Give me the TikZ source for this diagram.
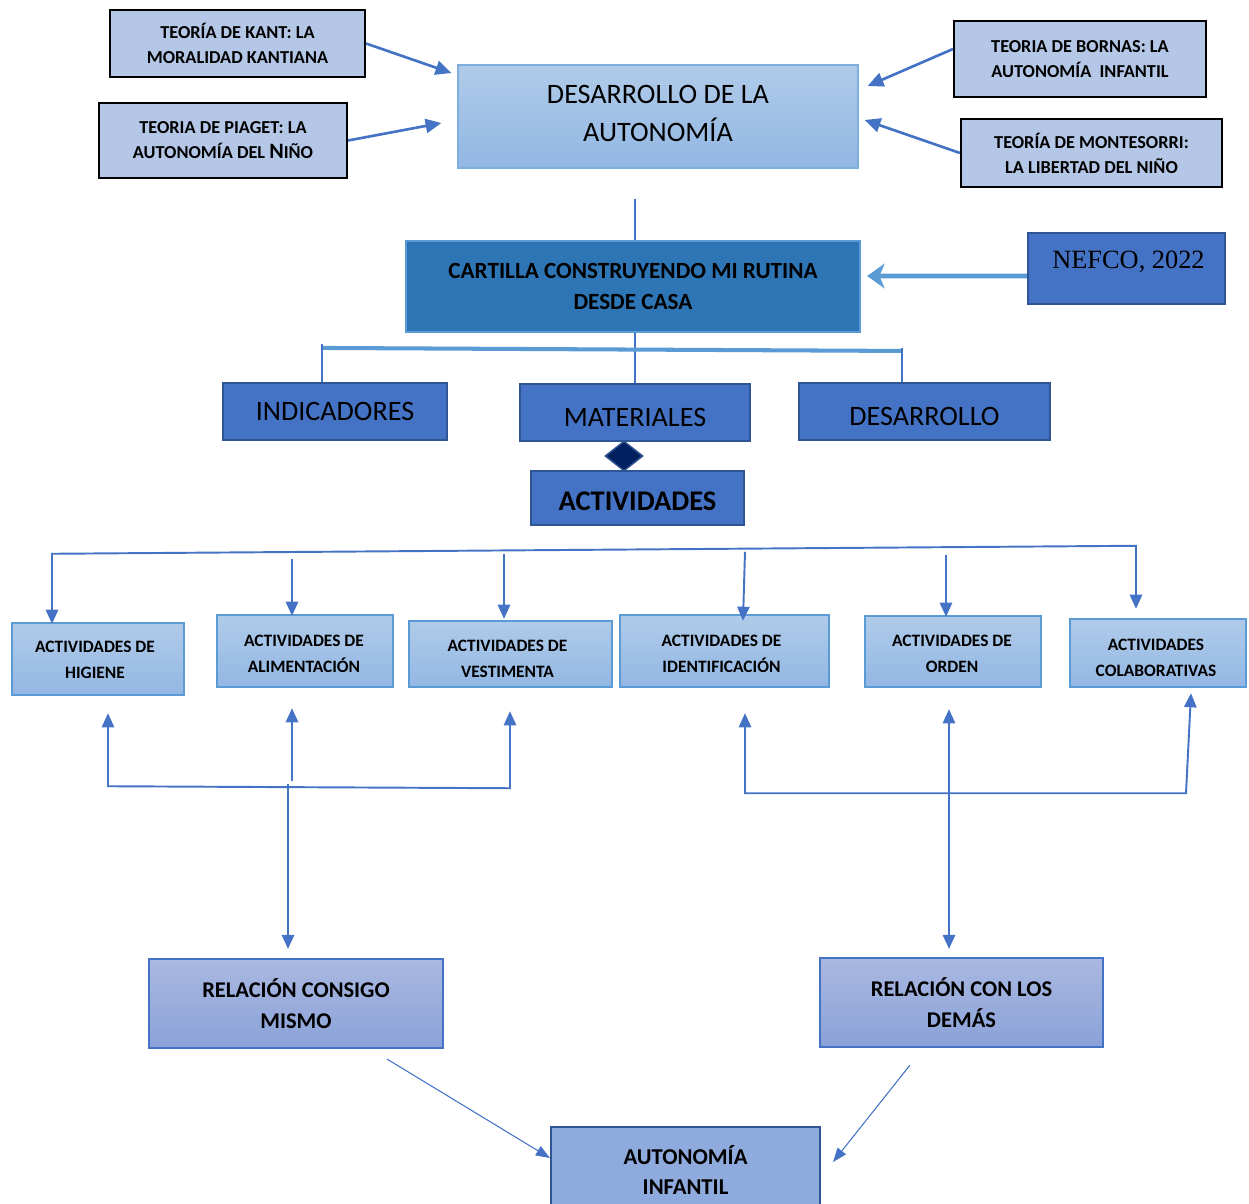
\documentclass[tikz,border=0pt]{standalone}
\usepackage{fontspec}
\setmainfont{Carlito}
\newfontfamily\tnr{Liberation Serif}
\usetikzlibrary{arrows.meta,calc,shapes.geometric}
\definecolor{theo}{HTML}{B4C7E7}
\definecolor{cblue}{HTML}{4472C4}
\definecolor{cdark}{HTML}{2F5597}
\definecolor{clight}{HTML}{5B9BD5}
\definecolor{cmid}{HTML}{2E75B6}
\definecolor{gtop}{HTML}{B0CBE9}
\definecolor{gbot}{HTML}{92B7E3}
\definecolor{rtop}{HTML}{AAB8E1}
\definecolor{rbot}{HTML}{8AA2D8}
\definecolor{aifill}{HTML}{8FAADC}
\definecolor{navy}{HTML}{002060}
\tikzset{
  sz/.style n args={2}{minimum width=#1*0.02cm, minimum height=#2*0.02cm, inner sep=0pt, align=center},
  tx/.style={inner sep=0pt, align=center},
  theory/.style={draw=black, line width=1.2pt, fill=theo, font=\bfseries\fontsize{10.4}{14.2}\selectfont},
  devbox/.style={draw=clight!80, line width=0.7pt, top color=gtop, bottom color=gbot},
  devfont/.style={font=\fontsize{16}{21.5}\selectfont},
  cartbox/.style={draw=clight, line width=1.2pt, fill=cmid, font=\bfseries\fontsize{13.2}{17.6}\selectfont},
  darkbox/.style={draw=cdark, line width=1.2pt, fill=cblue},
  secfont/.style={font=\fontsize{16}{19}\selectfont},
  actbox/.style={draw=clight, line width=1.4pt, top color=gtop, bottom color=gbot},
  actfont/.style={font=\bfseries\fontsize{9.9}{14.7}\selectfont},
  relbox/.style={draw=cblue, line width=1.2pt, top color=rtop, bottom color=rbot, font=\bfseries\fontsize{12.8}{17.6}\selectfont},
  aibox/.style={draw=cdark, line width=1.2pt, fill=aifill, font=\bfseries\fontsize{12.9}{17}\selectfont},
  toparr/.style={draw=cblue, line width=1.5pt, -{Triangle[length=9pt,width=8pt]}},
  arr/.style={draw=cblue, line width=1.1pt, -{Triangle[length=8pt,width=7pt]}},
  darr/.style={draw=cblue, line width=1.1pt, {Triangle[length=8pt,width=7pt]}-{Triangle[length=8pt,width=7pt]}},
  thinarr/.style={draw=cblue, line width=0.6pt, -{Triangle[length=8pt,width=6pt]}},
  vline/.style={draw=cblue, line width=1.7pt},
  hbar/.style={draw=clight, line width=2.3pt}
}
\begin{document}
\begin{tikzpicture}[x=0.02cm,y=-0.02cm]
\path[use as bounding box, fill=white] (0,0) rectangle (1249,1204);
\clip (0,0) rectangle (1249,1204);

% theory boxes
\node[theory, sz={255}{67}] (kant) at (237.5,43.5) {TEORÍA DE KANT: LA\\MORALIDAD KANTIANA};
\node[theory, sz={248}{75}] (piaget) at (223,140.5) {TEORIA DE PIAGET: LA\\AUTONOMÍA DEL {\fontsize{12.5}{14}\selectfont N}IÑO};
\node[theory, sz={252}{76}] (bornas) at (1080,59) {TEORIA DE BORNAS: LA\\AUTONOMÍA\ \ INFANTIL};
\node[theory, sz={261}{68}] (monte) at (1091.5,153) {TEORÍA DE MONTESORRI:\\LA LIBERTAD DEL NIÑO};

\node[devbox, sz={400}{103}] (dev) at (658,116.5) {};
\node[tx, devfont] (devt) at ($(dev.center)+(0,-3)$) {DESARROLLO DE LA\\AUTONOMÍA};

\draw[toparr] (kant.east) -- ($(dev.west)+(-6,-43.5)$);
\draw[toparr] (piaget.east) -- ($(dev.west)+(-16,6.5)$);
\draw[toparr] ($(bornas.west)+(0,-10)$) -- ($(dev.east)+(9,-30.5)$);
\draw[toparr] (monte.west) -- ($(dev.east)+(6,3.5)$);

% cartilla
\node[cartbox, sz={454}{91}] (cart) at (633,286.5) {CARTILLA CONSTRUYENDO MI RUTINA\\DESDE CASA};
\draw[vline] ($(dev.south)+(-23,30)$) -- ($(cart.north)+(2,0)$);

\node[darkbox, sz={197}{71}] (nefco) at (1126.5,268.5) {};
\node[tx, font=\tnr\fontsize{15}{18}\selectfont] (neft) at ($(nefco.center)+(2,-7)$) {NEFCO, 2022};
\draw[draw=clight, line width=2.8pt, -{Stealth[length=10pt,width=14pt,inset=3pt]}] ($(nefco.west)+(0,7.5)$) -- ($(cart.east)+(6,-10.5)$);

% sections
\node[darkbox, sz={224}{57}, secfont] (ind) at (335,411.5) {INDICADORES};
\node[darkbox, sz={230}{57}] (mat) at (635,412.5) {};
\node[tx, secfont] (matt) at ($(mat.center)+(0,4.5)$) {MATERIALES};
\node[darkbox, sz={251}{57}] (des) at (924.5,411.5) {};
\node[tx, secfont] (dest) at ($(des.center)+(0,4.5)$) {DESARROLLO};

\draw[vline] ($(cart.south)+(2,0)$) -- (mat.north);
\draw[hbar] ($(ind.north)+(-13,-34)$) -- ($(des.north)+(-22.5,-31)$);
\draw[vline] ($(ind.north)+(-13,-38)$) -- ($(ind.north)+(-13,0)$);
\draw[vline] ($(des.north)+(-22.5,-34)$) -- ($(des.north)+(-22.5,0)$);

\node[darkbox, sz={213}{54}] (act) at (637.5,498) {};
\node[tx, font=\bfseries\fontsize{16.2}{19}\selectfont] (actt) at ($(act.center)+(0,3)$) {ACTIVIDADES};
\node[diamond, draw=cdark, line width=0.8pt, fill=navy, minimum width=38*0.02cm, minimum height=30*0.02cm, inner sep=0pt, aspect=1.3] (dia) at (624,456) {};

% activity boxes
\node[actbox, sz={172}{72}] (hig) at (98,659) {};
\node[tx, actfont] (higt) at ($(hig.center)+(-3,1)$) {ACTIVIDADES DE\\HIGIENE};
\node[actbox, sz={176}{72}] (ali) at (305,651) {};
\node[tx, actfont] (alit) at ($(ali.center)+(-1,3)$) {ACTIVIDADES DE\\ALIMENTACIÓN};
\node[actbox, sz={203}{66}] (ves) at (510.5,654) {};
\node[tx, actfont] (vest) at ($(ves.center)+(-3,5)$) {ACTIVIDADES DE\\VESTIMENTA};
\node[actbox, sz={209}{72}] (ide) at (724.5,651) {};
\node[tx, actfont] (idet) at ($(ide.center)+(-3,3)$) {ACTIVIDADES DE\\IDENTIFICACIÓN};
\node[actbox, sz={176}{71}] (ord) at (953,651.5) {};
\node[tx, actfont] (ordt) at ($(ord.center)+(-1,2)$) {ACTIVIDADES DE\\ORDEN};
\node[actbox, sz={176}{68}] (col) at (1158,653) {};
\node[tx, actfont] (colt) at ($(col.center)+(-2,5)$) {ACTIVIDADES\\COLABORATIVAS};

% top distribution bar
\draw[darr] ($(hig.north)+(-46,2)$) -- ($(hig.north)+(-46,-68)$) -- ($(col.north)+(-22,-72)$) -- ($(col.north)+(-22,-9)$);
\draw[arr] ($(ali.north)+(-13,-55)$) -- ($(ali.north)+(-13,2)$);
\draw[arr] ($(ves.north)+(-6.5,-66)$) -- ($(ves.north)+(-6.5,-1)$);
\draw[arr] ($(ide.north)+(20.5,-62)$) -- ($(ide.north)+(18.5,7)$);
\draw[arr] ($(ord.north)+(-7,-60)$) -- ($(ord.north)+(-7,2)$);

% relation boxes
\node[relbox, sz={294}{89}] (rcm) at (296,1003.5) {RELACIÓN CONSIGO\\MISMO};
\node[relbox, sz={283}{89}] (rcd) at (961.5,1002.5) {RELACIÓN CON LOS\\DEMÁS};
\node[aibox, sz={269}{86}] (ai) at (685.5,1170) {AUTONOMÍA\\INFANTIL};

% bottom-left bracket
\draw[darr] ($(hig.south)+(10,17)$) -- ($(hig.south)+(10,90)$) -- ($(ves.south)+(-0.5,100)$) -- ($(ves.south)+(-0.5,23)$);
\draw[arr] ($(ali.south)+(-13,93)$) -- ($(ali.south)+(-13,20)$);
\draw[arr] ($(rcm.north)+(-8,-174)$) -- ($(rcm.north)+(-8,-9)$);

% bottom-right bracket
\draw[darr] ($(ide.south)+(20.5,25)$) -- ($(ide.south)+(20.5,105)$) -- ($(col.south)+(28,105)$) -- ($(col.south)+(33,5)$);
\draw[darr] ($(ord.south)+(-4,21)$) -- ($(rcd.north)+(-12.5,-8)$);

% final arrows
\draw[thinarr] ($(rcm.south)+(91,10)$) -- ($(ai.west)+(0,-12)$);
\draw[thinarr] ($(rcd.south)+(-51.5,17)$) -- ($(ai.east)+(12,-8)$);
\end{tikzpicture}
\end{document}
